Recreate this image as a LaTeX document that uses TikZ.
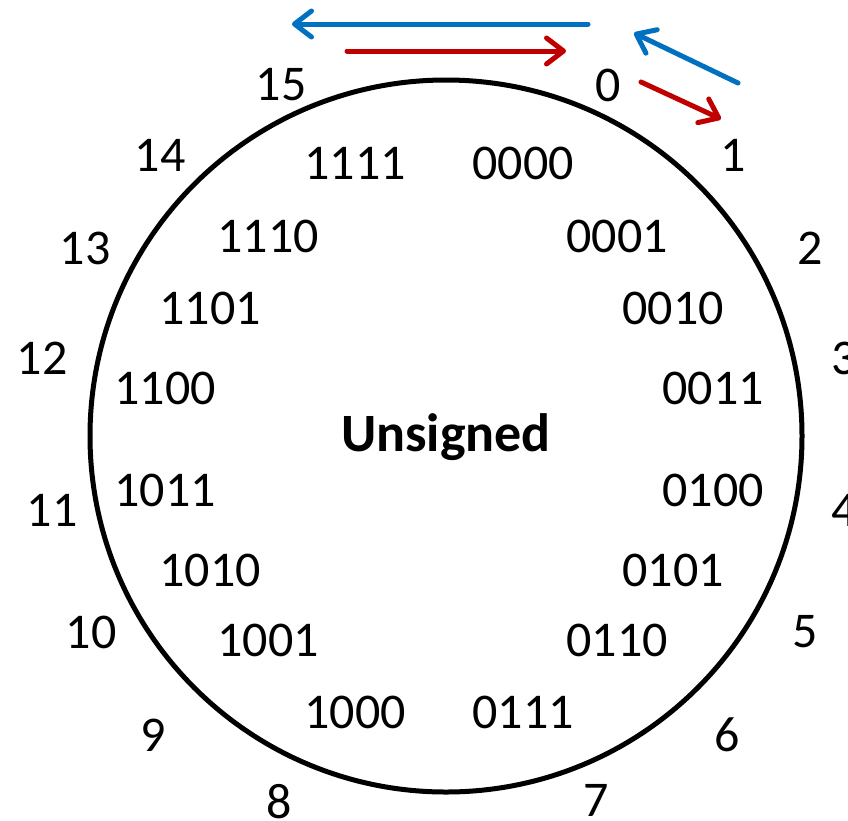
\documentclass[tikz,border=0pt]{standalone}
\usepackage{fontspec}
\setmainfont{Carlito}
\usetikzlibrary{arrows.meta}
\definecolor{arrblue}{RGB}{0,112,192}
\definecolor{arrred}{RGB}{192,0,0}
\begin{document}
\begin{tikzpicture}[x=1pt,y=-1pt,
  lbl/.style={inner sep=0pt,font=\fontsize{50}{58}\selectfont},
  ring/.style={draw=black,line width=5pt},
  flow/.style={line width=5pt,-{Straight Barb[length=17pt,width=26pt,line cap=round,line join=round]},line cap=round}]
\useasboundingbox (0,0) rectangle (848,820);
\node[ring,circle,minimum size=712pt,inner sep=0pt] (c) at (446,436) {};
\node[lbl,font=\fontsize{54}{60}\selectfont\bfseries] (u) at (446,437) {Unsigned};
% inner binary labels
\node[lbl] (b0) at (523,163) {0000};
\node[lbl] (b1) at (617,236) {0001};
\node[lbl] (b2) at (673,308) {0010};
\node[lbl] (b3) at (713,388) {0011};
\node[lbl] (b4) at (713,490) {0100};
\node[lbl] (b5) at (673,570) {0101};
\node[lbl] (b6) at (617,640) {0110};
\node[lbl] (b7) at (523,712) {0111};
\node[lbl] (b8) at (355,712) {1000};
\node[lbl] (b9) at (268,640) {1001};
\node[lbl] (b10) at (210,570) {1010};
\node[lbl] (b11) at (165,490) {1011};
\node[lbl] (b12) at (165,388) {1100};
\node[lbl] (b13) at (210,308) {1101};
\node[lbl] (b14) at (268,236) {1110};
\node[lbl] (b15) at (355,163) {1111};
% outer decimal labels
\node[lbl] (d0) at (608,85) {0};
\node[lbl] (d1) at (733,155) {1};
\node[lbl] (d2) at (810,248) {2};
\node[lbl] (d3) at (844,358) {3};
\node[lbl] (d4) at (844,510) {4};
\node[lbl] (d5) at (805,632) {5};
\node[lbl] (d6) at (727,735) {6};
\node[lbl] (d7) at (596,800) {7};
\node[lbl] (d8) at (279,802) {8};
\node[lbl] (d9) at (153,735) {9};
\node[lbl] (d10) at (91,632) {10};
\node[lbl] (d11) at (52,510) {11};
\node[lbl] (d12) at (42,358) {12};
\node[lbl] (d13) at (85,248) {13};
\node[lbl] (d14) at (160,155) {14};
\node[lbl] (d15) at (281,85) {15};
% arrow end points
\coordinate (bs) at (588,24);
\coordinate (be) at (292,24);
\coordinate (rs) at (347,51);
\coordinate (re) at (566,51);
\coordinate (ds) at (738,83);
\coordinate (de) at (634,33);
\coordinate (es) at (641,82);
\coordinate (ee) at (721,119);
\draw[flow,arrblue] (bs) -- (be);
\draw[flow,arrred] (rs) -- (re);
\draw[flow,arrblue] (ds) -- (de);
\draw[flow,arrred] (es) -- (ee);
\end{tikzpicture}
\end{document}
